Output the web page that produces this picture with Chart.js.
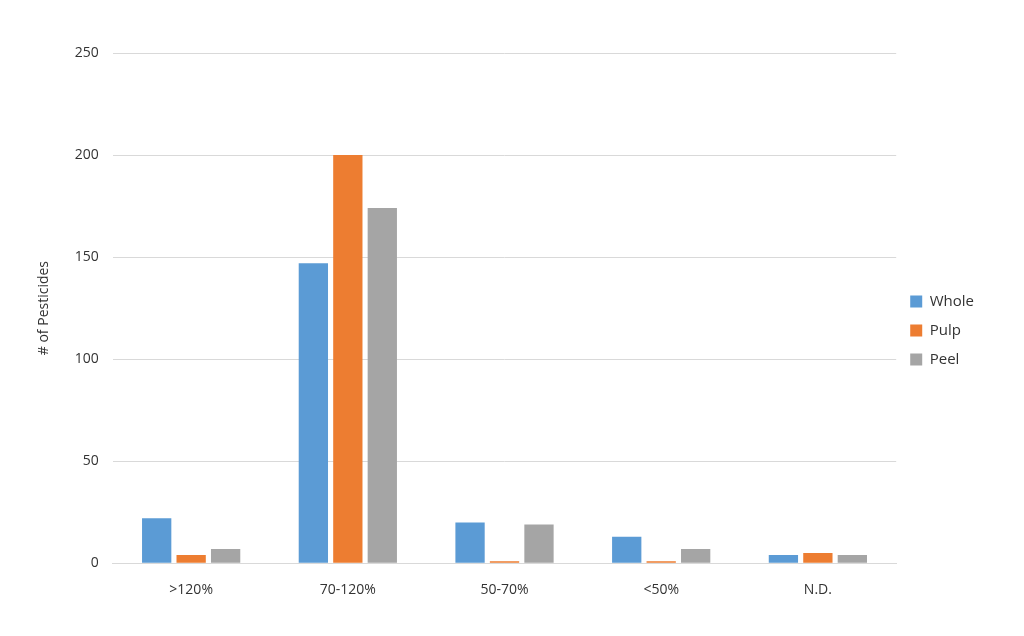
<!DOCTYPE html>
<html>
<head>
<script src="https://cdn.jsdelivr.net/npm/chart.js@4"></script>
<style>
html,body{margin:0;background:#fff;}
#wrap{width:1024px;height:636px;}
</style>
</head>
<body>
<div id="wrap"><canvas id="myChart"></canvas></div>
<script>
var categories = ['>120%', '70-120%', '50-70%', '<50%', 'N.D.'];
var whole = [22, 147, 20, 13, 4];
var pulp = [4, 200, 1, 1, 5];
var peel = [7, 174, 19, 7, 4];

Chart.defaults.font.family = 'Open Sans, sans-serif';
Chart.defaults.color = '#333333';

var ctx = document.getElementById("myChart").getContext("2d");
var myChart = new Chart(ctx, {
    type: 'bar',
    data: {
        labels: categories,
        datasets: [
            { label: 'Whole', data: whole, backgroundColor: '#5b9bd5' },
            { label: 'Pulp', data: pulp, backgroundColor: '#ed7d31' },
            { label: 'Peel', data: peel, backgroundColor: '#a5a5a5' }
        ]
    },
    options: {
        responsive: true,
        maintainAspectRatio: false,
        animation: false,
        categoryPercentage: 0.66,
        barPercentage: 0.85,
        layout: { padding: { left: 32, top: 53, right: 40, bottom: 28 } },
        plugins: {
            legend: {
                position: 'right',
                labels: { boxWidth: 12, boxHeight: 12, padding: 14, font: { size: 15 }, color: '#333333' }
            },
            tooltip: { enabled: false }
        },
        scales: {
            x: {
                grid: { display: false },
                border: { color: '#d9d9d9' },
                ticks: { font: { size: 14 }, padding: 10 }
            },
            y: {
                min: 0,
                max: 250,
                ticks: { stepSize: 50, font: { size: 14 }, padding: 14 },
                grid: { color: '#d9d9d9', drawTicks: false },
                border: { display: false },
                title: { display: true, text: '# of Pesticides', font: { size: 14 }, padding: { bottom: 8 } }
            }
        }
    }
});
</script>
</body>
</html>
